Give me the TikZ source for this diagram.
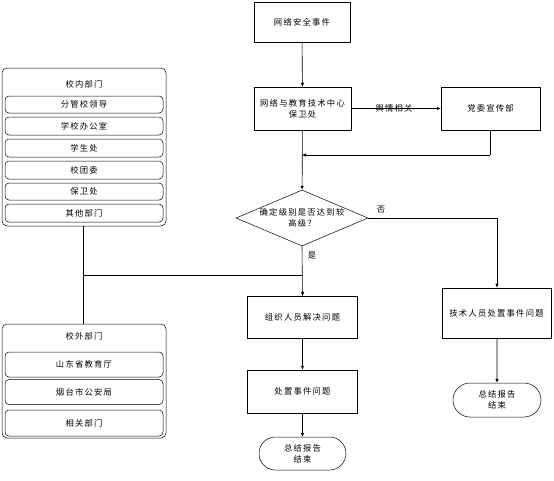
\documentclass[tikz,border=0pt]{standalone}
\usepackage{fontspec}
\newfontfamily\cjk[LetterSpace=15]{Noto Sans CJK SC}
\usetikzlibrary{shapes.geometric,shapes.misc,arrows.meta}
\begin{document}
\begin{tikzpicture}[x=1pt,y=-1pt,
  every node/.style={font=\cjk\fontsize{8.3}{11}\selectfont, inner sep=1pt, align=center},
  proc/.style={draw, line width=0.5pt, rectangle},
  grp/.style={draw, line width=0.5pt, rectangle, rounded corners=5pt},
  sub/.style={draw, line width=0.5pt, rectangle, rounded corners=4pt, minimum width=158pt},
  term/.style={draw, line width=0.5pt, rounded rectangle},
  dec/.style={draw, line width=0.5pt, diamond, aspect=2.35},
  ln/.style={line width=0.6pt},
  arr/.style={line width=0.6pt, -{Latex[length=4pt,width=3.5pt]}}
]
\useasboundingbox (0,0) rectangle (554,480);

% main flow
\node[proc, minimum width=96pt, minimum height=40pt] (ev) at (302,22) {网络安全事件};
\node[proc, minimum width=97pt, minimum height=43pt] (ctr) at (302.5,108.5) {网络与教育技术中心\\保卫处};
\node[proc, minimum width=99pt, minimum height=43pt] (pub) at (490.5,108.5) {党委宣传部};
\node[dec, minimum width=132pt, minimum height=56pt, inner sep=0pt] (dc) at (302,218) {确定级别是否达到较\\高级？};
\node[proc, minimum width=110pt, minimum height=42pt] (org) at (302.5,317.5) {组织人员解决问题};
\node[proc, minimum width=110pt, minimum height=43pt] (dis) at (302.5,391.5) {处置事件问题};
\node[term, minimum width=89pt, minimum height=33pt] (end1) at (302.5,453.5) {总结报告\\结束};
\node[proc, minimum width=109pt, minimum height=50pt] (tech) at (496.5,313) {技术人员处置事件问题};
\node[term, minimum width=90pt, minimum height=34pt] (end2) at (497,400) {总结报告\\结束};

\coordinate (m1) at (490,155);
\coordinate (m2) at (302,155);
\coordinate (c1) at (497,218);
\coordinate (j1) at (83,275);
\coordinate (j2) at (302,275);

\draw[arr] (ev) -- (ctr);
\draw[arr] (ctr) -- node[xshift=-2pt]{舆情相关} (pub);
\draw[ln] (pub.south -| m1) -- (m1);
\draw[arr] (m1) -- (m2);
\draw[arr] (ctr) -- (dc);
\draw[ln] (dc.east) -- (c1);
\draw[arr] (c1) -- (tech.north -| c1);
\node at (381,210) {否};
\node at (312,256) {是};
\draw[arr] (dc.south) -- (org.north);
\draw[arr] (org) -- (dis);
\draw[arr] (dis) -- (end1);
\draw[arr] (tech.south -| end2) -- (end2);

% left groups
\node[grp, minimum width=164pt, minimum height=158pt] (in) at (84,147) {};
\node at (84,84) {校内部门};
\node[sub, minimum height=17pt] (a1) at (84,104.5) {分管校领导};
\node[sub, minimum height=18pt] (a2) at (84,126) {学校办公室};
\node[sub, minimum height=18pt] (a3) at (84,148) {学生处};
\node[sub, minimum height=18pt] (a4) at (84,170) {校团委};
\node[sub, minimum height=17pt] (a5) at (84,191.5) {保卫处};
\node[sub, minimum height=18pt] (a6) at (84,213) {其他部门};

\node[grp, minimum width=164pt, minimum height=114pt] (out) at (84,381) {};
\node at (84,336) {校外部门};
\node[sub, minimum height=25pt] (b1) at (84,364.5) {山东省教育厅};
\node[sub, minimum height=25pt] (b2) at (84,392) {烟台市公安局};
\node[sub, minimum height=26pt] (b3) at (84,423) {相关部门};

\draw[ln] (in.south -| j1) -- (out.north -| j1);
\draw[ln] (j1) -- (j2);
\end{tikzpicture}
\end{document}
